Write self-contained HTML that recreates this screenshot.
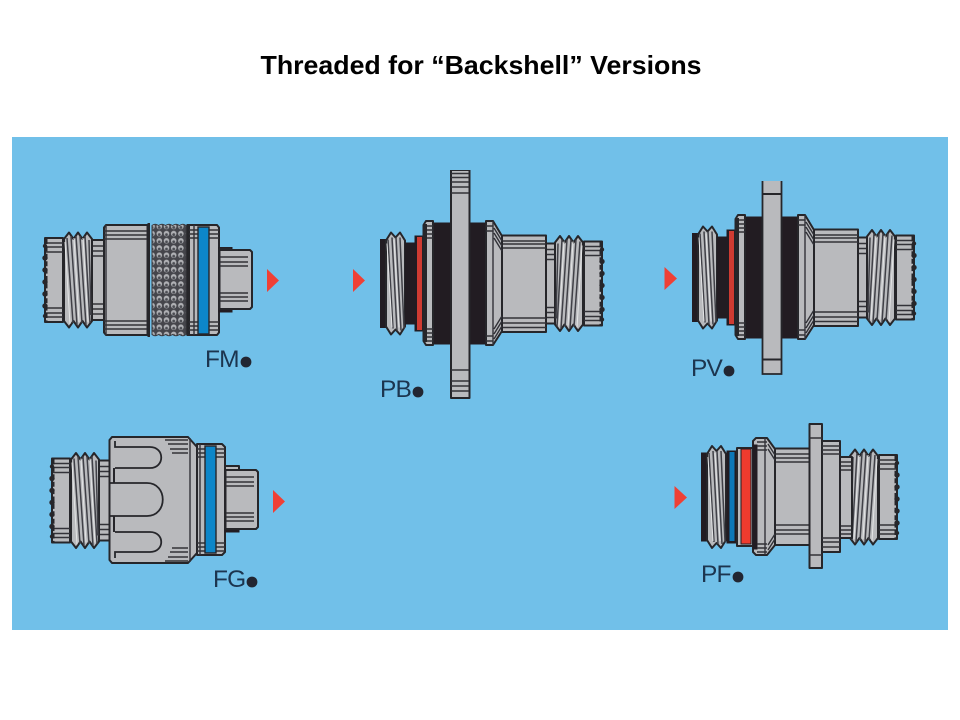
<!DOCTYPE html>
<html lang="en">
<head>
<meta charset="utf-8">
<title>Threaded for Backshell Versions</title>
<style>
html,body{margin:0;padding:0;background:#fff;width:960px;height:720px;overflow:hidden}
svg{display:block}
.lb{font-family:"Liberation Sans",sans-serif;font-size:24.500px;fill:#1b3550;letter-spacing:-.9px}
.g{fill:#b9babd;stroke:#26272c;stroke-width:2;stroke-linejoin:round}
.k{fill:#231f20;stroke:#231f20;stroke-width:1}
.l{stroke:#303137;stroke-width:1.400;fill:none}
.t{stroke:#3f4046;stroke-width:1.500;fill:none}
.w{stroke:#e4e5e6;stroke-width:1;fill:none}
</style>
</head>
<body>
<svg width="960" height="720" viewBox="0 0 960 720" xmlns="http://www.w3.org/2000/svg">
<defs>
<filter id="soft" x="0" y="0" width="100%" height="100%"><feGaussianBlur stdDeviation="0.35"/></filter>
<pattern id="kn" x="148.500" y="223" width="7.200" height="7.200" patternUnits="userSpaceOnUse">
<rect width="7.200" height="7.200" fill="#44454b"/>
<circle cx="3.600" cy="3.400" r="2.800" fill="#b0b1b5"/>
<circle cx="3.600" cy="4.400" r="1.400" fill="#4c4d53"/>
</pattern>

<g id="nut">
<rect class="g" x="48" y="-40" width="13" height="80"/>
<path class="l" d="M48-34H61M48-29H61M48-24H61M48 24H61M48 29H61M48 34H61"/>
<path class="g" d="M1-42H19V42H1Z"/>
<path class="l" d="M2-37H19M2-33H19M2-28H19M2 28H19M2 33H19M2 37H19"/>
<path d="M2-41V41" stroke="#26272c" stroke-width="3" stroke-dasharray="5 2.400" fill="none"/>
<circle cx="1" cy="-34" r="2.200" fill="#26272c"/><circle cx="1" cy="-22" r="2.700" fill="#26272c"/>
<circle cx="1" cy="-10" r="2.700" fill="#26272c"/><circle cx="1" cy="2" r="2.700" fill="#26272c"/>
<circle cx="1" cy="14" r="2.700" fill="#26272c"/><circle cx="1" cy="26" r="2.700" fill="#26272c"/>
<circle cx="1" cy="36" r="2.200" fill="#26272c"/>
<path class="g" d="M20-41L25-47.500L29.500-41L34-47.500L38.500-41L43-47.500L48-41V41L43 47.500L38.500 41L34 47.500L29.500 41L25 47.500L20 41Z"/>
<path class="t" d="M23-42L29 43M27-44L33 45M32-44L38 43M36-44L42 45M41-44L46 43M45-40L47 35"/>
<path class="w" d="M21-38L26 44M30-42L35 42M39-42L44 42"/>
</g>

<g id="lth">
<path class="k" d="M0.500-44H6V44H0.500Z"/>
<path class="g" d="M6-43L11-51L15.500-46L20-51L25-43V43L20 51L15.500 46L11 51L6 43Z"/>
<path class="t" d="M8-44L13 45M12-46L17 47M16-46L21 47M20-46L24 45"/>
<path class="w" d="M7-40L12 44M14-44L19 44"/>
</g>

<g id="bulk">
<use href="#nut" transform="translate(603,283.500) scale(-1,1)"/>
<rect class="g" x="502" y="235.500" width="44" height="96.500"/>
<path class="l" d="M502 241H546M502 244H546M502 248H546M502 318H546M502 323H546M502 327.500H546"/>
<use href="#lth" transform="translate(380,283.500)"/>
<path class="k" d="M405.500 243H415V240H417V327H415V324H405.500Z"/>
<path class="k" d="M415 236H424V331H415Z"/>
<rect x="417" y="237" width="5" height="93" fill="#cf3a30"/>
<rect class="k" x="430" y="223" width="58" height="121"/>
<path class="g" d="M426 221H433V345H426L423.500 341V225Z"/>
<rect x="423.500" y="224" width="3.500" height="118" fill="#26272c"/>
<path class="l" d="M427 226H433M427 230H433M427 234H433M427 238H433M427 329H433M427 333H433M427 337H433M427 341H433"/>
<path class="g" d="M486 221H493L502 236V331L493 345H486Z"/>
<path class="l" d="M493 221V345M486 226H493M486 231H493M486 336H493M486 341H493M494 228L502 241M494 233L502 246M494 238L502 251M494 339L502 326M494 334L502 321M494 329L502 316"/>
</g>
</defs>

<text x="481" y="74" text-anchor="middle" textLength="441" lengthAdjust="spacingAndGlyphs" font-family="Liberation Sans, sans-serif" font-weight="700" font-size="26" fill="#000">Threaded for “Backshell” Versions</text>

<rect x="12" y="137" width="936" height="493" fill="#71c0e9"/>

<g filter="url(#soft)">
<!-- FM -->
<use href="#nut" transform="translate(44,280)"/>
<path class="g" d="M106 225H147.500V335H106L104 332.500V227.500Z"/>
<path class="l" d="M104 231H147M104 235H147M104 239H147M104 321H147M104 325H147M104 329H147M106 225V335"/>
<rect x="147.500" y="223" width="2.500" height="114" fill="#26272c"/>
<path d="M152 225.500Q155 223 158.500 225.500Q162 223 165.500 225.500Q169 223 172.500 225.500Q176 223 179.500 225.500Q183 223 186 225.500V334.500Q183 337 179.500 334.500Q176 337 172.500 334.500Q169 337 165.500 334.500Q162 337 158.500 334.500Q155 337 152 334.500Z" fill="url(#kn)" stroke="#3a3b41" stroke-width="1"/>
<rect x="186.500" y="224" width="2.500" height="112" fill="#26272c"/>
<path class="g" d="M189 225H217L219 227.500V332.500L217 335H189Z"/>
<path class="l" d="M189 230H198M189 234H198M189 238H198M189 322H198M189 326H198M189 330H198M209 230H219M209 234H219M209 238H219M209 322H219M209 326H219M209 330H219M194 225V335"/>
<rect x="198" y="227" width="11" height="107" fill="#0c86c9" stroke="#26272c" stroke-width="1.400"/>
<path class="k" d="M219 247.500H232V254H219ZM219 304.500H232V312H219Z"/>
<path class="g" d="M219.500 250H250L252 252V307L250 309H219.500Z"/>
<path class="l" d="M220 257H248M220 262H248M220 266H248M220 293H248M220 297H248M220 301H248"/>
<rect x="219" y="247.500" width="12" height="2" fill="#26272c"/>
<path d="M267 269L279 280.500L267 292Z" fill="#ef4136"/>
<text class="lb" x="205" y="367">FM</text>
<circle cx="246" cy="362" r="5.400" fill="#222630"/>

<!-- PB -->
<use href="#bulk"/>
<rect class="g" x="451" y="170" width="18.500" height="228"/>
<path class="l" d="M451 173.500H469M451 177.500H469M451 182H469M451 187H469M451 193H469M451 370H469M451 381H469M451 386H469M451 391H469"/>
<path d="M353 269L365 280.500L353 292Z" fill="#ef4136"/>
<text class="lb" x="380" y="397">PB</text>
<circle cx="418" cy="392" r="5.400" fill="#222630"/>

<!-- PV -->
<use href="#bulk" transform="translate(312,-6)"/>
<path fill="#b9babd" d="M762.500 181H781.500V374H762.500Z"/>
<path d="M762.500 181V374H781.500V181" fill="none" stroke="#26272c" stroke-width="1.800"/>
<path d="M762.500 194H781.500M762.500 359.500H781.500" stroke="#26272c" stroke-width="2" fill="none"/>
<path d="M664.500 267L677 278.500L664.500 290Z" fill="#ef4136"/>
<text class="lb" x="691" y="376">PV</text>
<circle cx="729" cy="371" r="5.400" fill="#222630"/>

<!-- FG -->
<use href="#nut" transform="translate(51,500.500)"/>
<path class="g" d="M112 437H188L197 447V553L188 563H112L109.500 560V440Z"/>
<path class="l" d="M190 438V562M165 440H188M168 444H188M170 449H188M172 453H188M165 561H188M168 557H188M170 552H188M172 548H188"/>
<path d="M115 441V447H150C165 447 165 468 150 468H115M115 532H150C165 532 165 552 150 552H115V558" fill="none" stroke="#26272c" stroke-width="1.800"/>
<path d="M110 483H147C168 483 168 516 147 516H110" fill="none" stroke="#26272c" stroke-width="1.800"/>
<path d="M114 468V483M114 516V532" stroke="#26272c" stroke-width="2" fill="none"/>
<path class="g" d="M197 444H222L225 447V552L222 555H197Z"/>
<path class="l" d="M197 449H205M197 453H205M197 457H205M197 543H205M197 547H205M197 551H205M216 449H225M216 453H225M216 457H225M216 543H225M216 547H225M216 551H225M200 444V555"/>
<rect x="205" y="446" width="11" height="107" fill="#0c86c9" stroke="#26272c" stroke-width="1.400"/>
<rect class="g" x="225" y="466" width="14" height="6"/>
<rect class="k" x="225" y="524" width="14" height="8"/>
<path class="g" d="M225.500 470H256L258 472V527L256 529H225.500Z"/>
<path class="l" d="M226 477H254M226 482H254M226 486H254M226 513H254M226 517H254M226 521H254"/>
<path d="M273 490L285 501.500L273 513Z" fill="#ef4136"/>
<text class="lb" x="213" y="587">FG</text>
<circle cx="252" cy="582" r="5.400" fill="#222630"/>

<!-- PF -->
<use href="#nut" transform="translate(898,497) scale(-1,1)"/>
<rect class="g" x="840" y="457" width="12" height="81"/>
<path class="l" d="M840 462H851M840 466H851M840 470H851M840 526H851M840 530H851M840 534H851"/>
<use href="#lth" transform="translate(701,497)"/>
<path class="k" d="M727 451H737V543H727Z"/>
<rect x="729.500" y="452" width="5" height="89" fill="#0f78b8"/>
<path class="g" d="M737 448H753V546H737Z" stroke-width="2.400"/>
<rect x="741" y="449" width="10" height="95" fill="#ef3b2f" stroke="#231f20" stroke-width="1"/>
<rect x="775" y="448.500" width="35" height="96.500" class="g"/>
<path class="l" d="M775 454H809M775 458H809M775 462H809M775 525H809M775 530H809M775 534H809"/>
<path class="g" d="M756 438H767L775 449V545L767 555H756L753 552V441Z"/>
<path class="k" d="M753 445H757V549H753Z"/>
<path class="l" d="M757 442H767M757 446H767M757 450H767M757 544H767M757 548H767M757 552H767M765 438V555M768 444L775 455M768 449L775 460M768 550L775 539M768 545L775 534"/>
<rect class="g" x="809.500" y="424" width="12.500" height="144"/>
<path class="l" d="M809.500 438H822M809.500 555H822"/>
<rect class="g" x="822" y="441" width="18" height="111"/>
<path class="l" d="M822 446H840M822 450H840M822 454H840M822 538H840M822 542H840M822 547H840"/>
<path d="M674.500 486L687 497.500L674.500 509Z" fill="#ef4136"/>
<text class="lb" x="701" y="582">PF</text>
<circle cx="738" cy="577" r="5.400" fill="#222630"/>
</g>
</svg>
</body>
</html>
